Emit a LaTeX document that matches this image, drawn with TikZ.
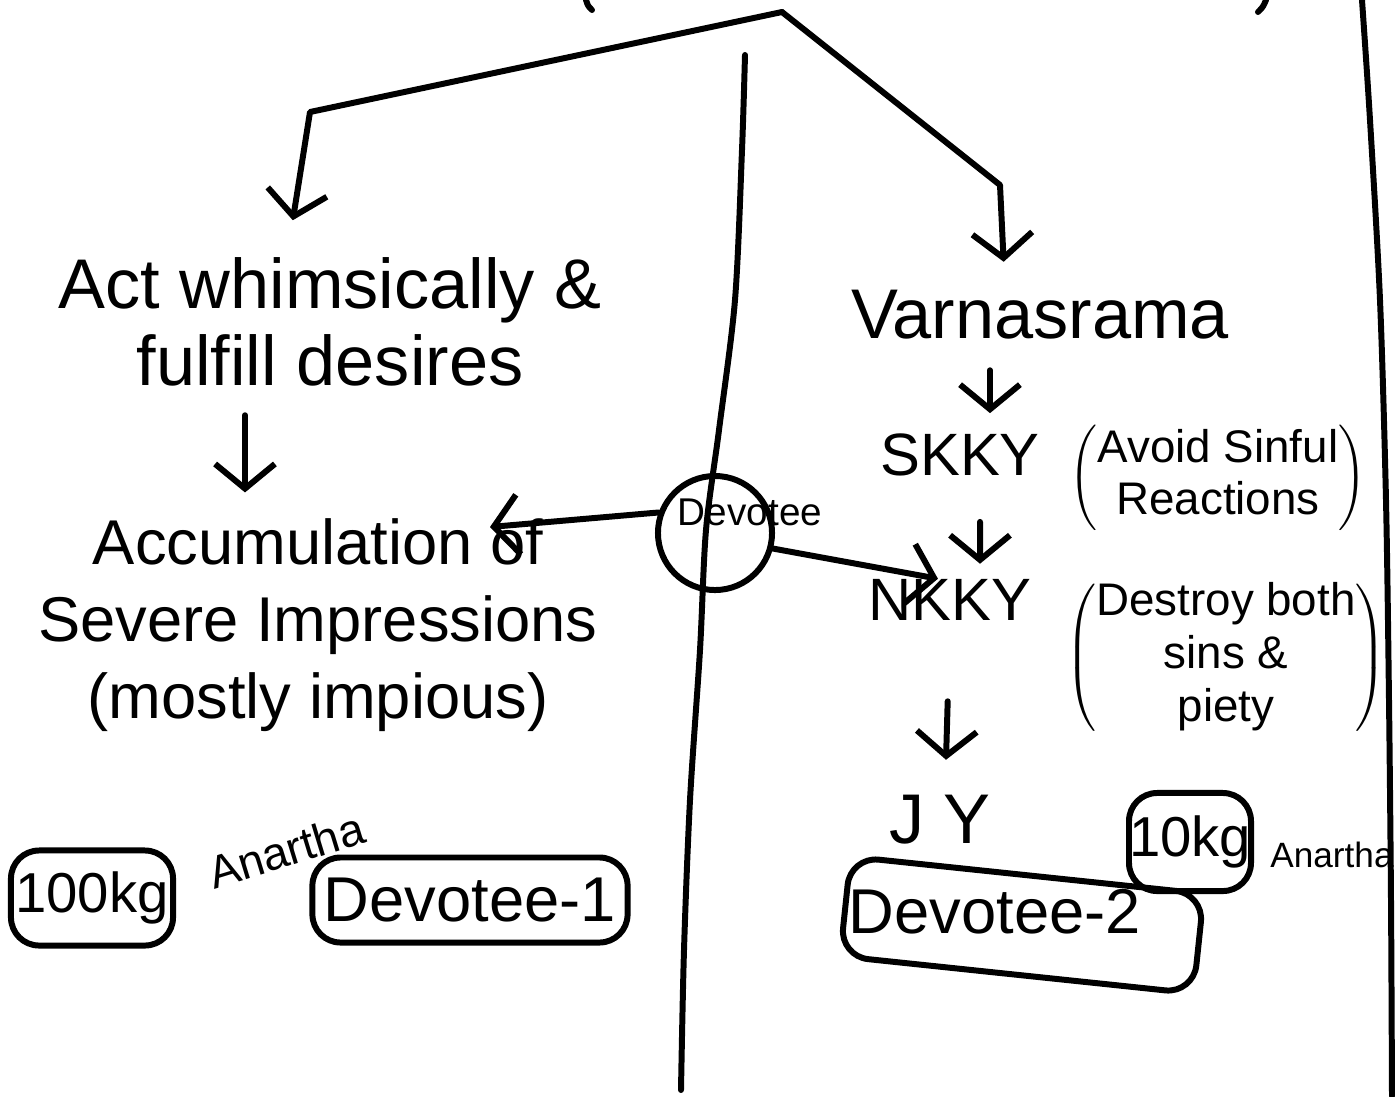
\documentclass[tikz,border=0pt]{standalone}
\usepackage{fontspec}
\setmainfont{Liberation Sans}
\usetikzlibrary{arrows.meta,calc}

\tikzset{
  ink/.style={line width=1.7pt,line cap=round,line join=round},
  arr/.style={ink,-{Straight Barb[length=7pt,width=17pt]}},
  txt/.style={align=center,inner sep=0pt,font=\fontsize{20}{22}\selectfont},
  note/.style={align=center,inner sep=0pt,font=\fontsize{13}{15}\selectfont},
  kgbox/.style={ink,draw,rounded corners=8pt,inner sep=0pt,font=\fontsize{18}{20}\selectfont},
  tiny/.style={inner sep=0pt,font=\fontsize{12}{14}\selectfont}
}

\begin{document}
\begin{tikzpicture}[x=0.01cm,y=-0.01cm]
\useasboundingbox (0,0) rectangle (1399,1096);

% dividers and stray marks at the top
\draw[ink] plot[smooth] coordinates {(745,55) (742,150) (735,300) (719,430) (706,530) (700,650) (690,800) (684,950) (681,1090)};
\draw[ink] plot[smooth] coordinates {(1362,0) (1370,120) (1380,300) (1386,500) (1389,700) (1391,900) (1392,1096)};
\draw[ink] (586,0) .. controls (588,6) .. (592,10);
\draw[ink] (1266,0) .. controls (1263,7) .. (1258,12);

\coordinate (apex) at (782,12);
\coordinate (lbend) at (310,112);
\coordinate (rbend) at (1000,185);
\coordinate (accof) at (490,527);

% left column
\node[txt] (act) at (330,322) {Act whimsically \&\\fulfill desires};
\node[txt,font=\fontsize{18}{22}\selectfont] (acc) at (318,625) {Accumulation of\\Severe Impressions\\(mostly impious)};

% devotee in the middle
\node[ink,draw,circle,minimum size=1.14cm] (dev) at (715,533) {};
\node[tiny,font=\fontsize{11}{13}\selectfont] (devtxt) at (750,512) {Devotee};

% right column
\node[txt] (varna) at (1040,315) {Varnasrama};
\node[txt,font=\fontsize{17}{20}\selectfont] (skky) at (960,455) {SKKY};
\node[note] (skkynote) at (1218,478) {$\left(\begin{tabular}{@{}c@{}}Avoid Sinful\\Reactions\end{tabular}\right)$};
\node[txt,font=\fontsize{17}{20}\selectfont] (nkky) at (950,600) {NKKY};
\node[note] (nkkynote) at (1226,658) {$\left(\begin{tabular}{@{}c@{}}Destroy both\\sins \&\\piety\end{tabular}\right)$};
\node[txt] (jy) at (940,820) {J Y};

% weights
\node[kgbox,font=\fontsize{16}{18}\selectfont,minimum width=1.62cm,minimum height=0.95cm] (kg100) at (92,898) {100kg};
\node[tiny,font=\fontsize{13}{15}\selectfont,rotate=17] (an1) at (286,850) {Anartha};
\node[kgbox,minimum width=3.15cm,minimum height=0.85cm] (dev1) at (470,900) {Devotee-1};
\node[kgbox,minimum width=3.55cm,minimum height=1.0cm,rotate=-6] (dev2) at (1022,925) {};
\node[kgbox,draw=none] (dev2txt) at (995,912) {Devotee-2};
\node[kgbox,font=\fontsize{16}{18}\selectfont,minimum width=1.12cm,minimum height=0.98cm] (kg10) at (1190,842) {10kg};
\node[tiny,font=\fontsize{10}{12}\selectfont] (an2) at (1332,855) {Anartha};

% arrows
\draw[arr,shorten >=0.37cm] (apex) -- (lbend) -- ($(act.north)+(-43,0)$);
\draw[arr,shorten >=0.28cm] (apex) -- (rbend) -- ($(varna.north)+(-35,0)$);
\draw[arr,shorten <=0.28cm,shorten >=0.25cm] ($(act.south)+(-85,0)$) -- ($(acc.north)+(-73,0)$);
\draw[arr] (dev.160) -- (accof);
\draw[arr] (dev.-15) -- ([xshift=0.7cm]nkky.north west);
\draw[arr,shorten <=0.3cm,shorten >=0.2cm] ([xshift=-0.5cm]varna.south) -- ([xshift=0.3cm]skky.north);
\draw[arr,shorten <=0.45cm,shorten >=0.15cm] ([xshift=0.2cm]skky.south) -- ([xshift=0.3cm]nkky.north);
\draw[arr,shorten <=0.8cm,shorten >=0.35cm] (nkky.south) -- ([xshift=0.05cm]jy.north);
\end{tikzpicture}
\end{document}
